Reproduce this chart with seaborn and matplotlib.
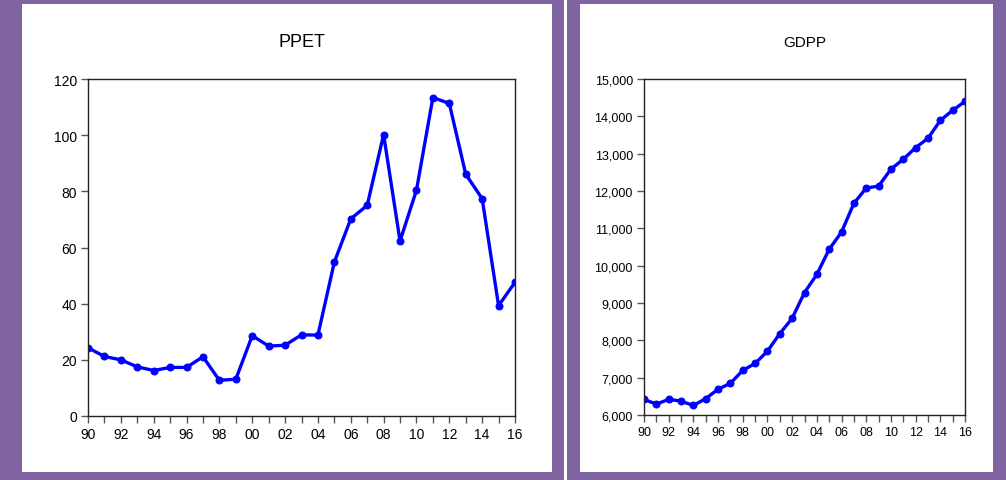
import matplotlib
matplotlib.use("Agg")
import matplotlib.pyplot as plt
import matplotlib.patches as mpatches
from matplotlib.ticker import FuncFormatter
import pandas as pd
import seaborn as sns

years = list(range(1990, 2017))
ppet = [24.3, 21.2, 20.0, 17.5, 16.2, 17.3, 17.3, 21.1, 12.7, 13.1,
        28.6, 24.9, 25.2, 28.9, 28.8, 54.8, 70.2, 75.0, 100.2, 62.3,
        80.4, 113.4, 111.3, 86.1, 77.4, 39.3, 47.6]
gdpp = [6420, 6290, 6420, 6370, 6255, 6440, 6690, 6850, 7195, 7380,
        7710, 8180, 8590, 9280, 9765, 10440, 10900, 11670, 12080, 12130,
        12585, 12850, 13160, 13410, 13890, 14160, 14400]
year_labels = [f"{y % 100:02d}" if y % 2 == 0 else "" for y in years]
ppet_ticks = [0, 20, 40, 60, 80, 100, 120]
gdpp_ticks = list(range(6000, 15001, 1000))

df = pd.DataFrame({"year": years, "PPET": ppet, "GDPP": gdpp})

sns.set_style("ticks")
plt.rcParams["font.family"] = ["Liberation Sans", "DejaVu Sans"]

W, H = 1006, 481
fig = plt.figure(figsize=(W / 100, H / 100), dpi=100)
fig.patch.set_facecolor("#8064A2")


def px_rect(x0, y0, x1, y1, color):
    r = mpatches.Rectangle((x0 / W, 1 - y1 / H), (x1 - x0) / W, (y1 - y0) / H,
                           transform=fig.transFigure, facecolor=color,
                           edgecolor="none", zorder=0)
    fig.add_artist(r)


px_rect(22, 5, 552, 473, "white")
px_rect(580, 5, 993, 473, "white")
px_rect(564, 0, 567, 481, "white")


def panel(rect, col, ticks, fmt, title, tick_size, title_size):
    ax = fig.add_axes(rect)
    ax.set_facecolor("white")
    sns.lineplot(data=df, x="year", y=col, ax=ax, color="#0000FF",
                 linewidth=2.4, marker="o", markersize=5,
                 markeredgecolor="#0000FF")
    ax.set_xlim(1990, 2016)
    ax.set_ylim(ticks[0], ticks[-1])
    ax.set_xticks(years)
    ax.set_xticklabels(year_labels)
    ax.set_yticks(ticks)
    ax.yaxis.set_major_formatter(FuncFormatter(fmt))
    ax.tick_params(axis="both", direction="out", length=5, width=1,
                   color="#555555", labelcolor="black", labelsize=tick_size,
                   pad=3)
    for s in ax.spines.values():
        s.set_visible(True)
        s.set_color("#222222")
        s.set_linewidth(1)
    ax.set_xlabel("")
    ax.set_ylabel("")
    ax.set_title(title, fontsize=title_size, pad=24, color="black")
    return ax


panel([88 / W, 1 - 417 / H, 427 / W, 337 / H], "PPET", ppet_ticks,
      lambda v, p: f"{v:.0f}", "PPET", 10, 13)
panel([644 / W, 1 - 416 / H, 321 / W, 336 / H], "GDPP", gdpp_ticks,
      lambda v, p: f"{v:,.0f}", "GDPP", 9, 11)

fig.savefig("out.png", dpi=100, facecolor=fig.get_facecolor())
